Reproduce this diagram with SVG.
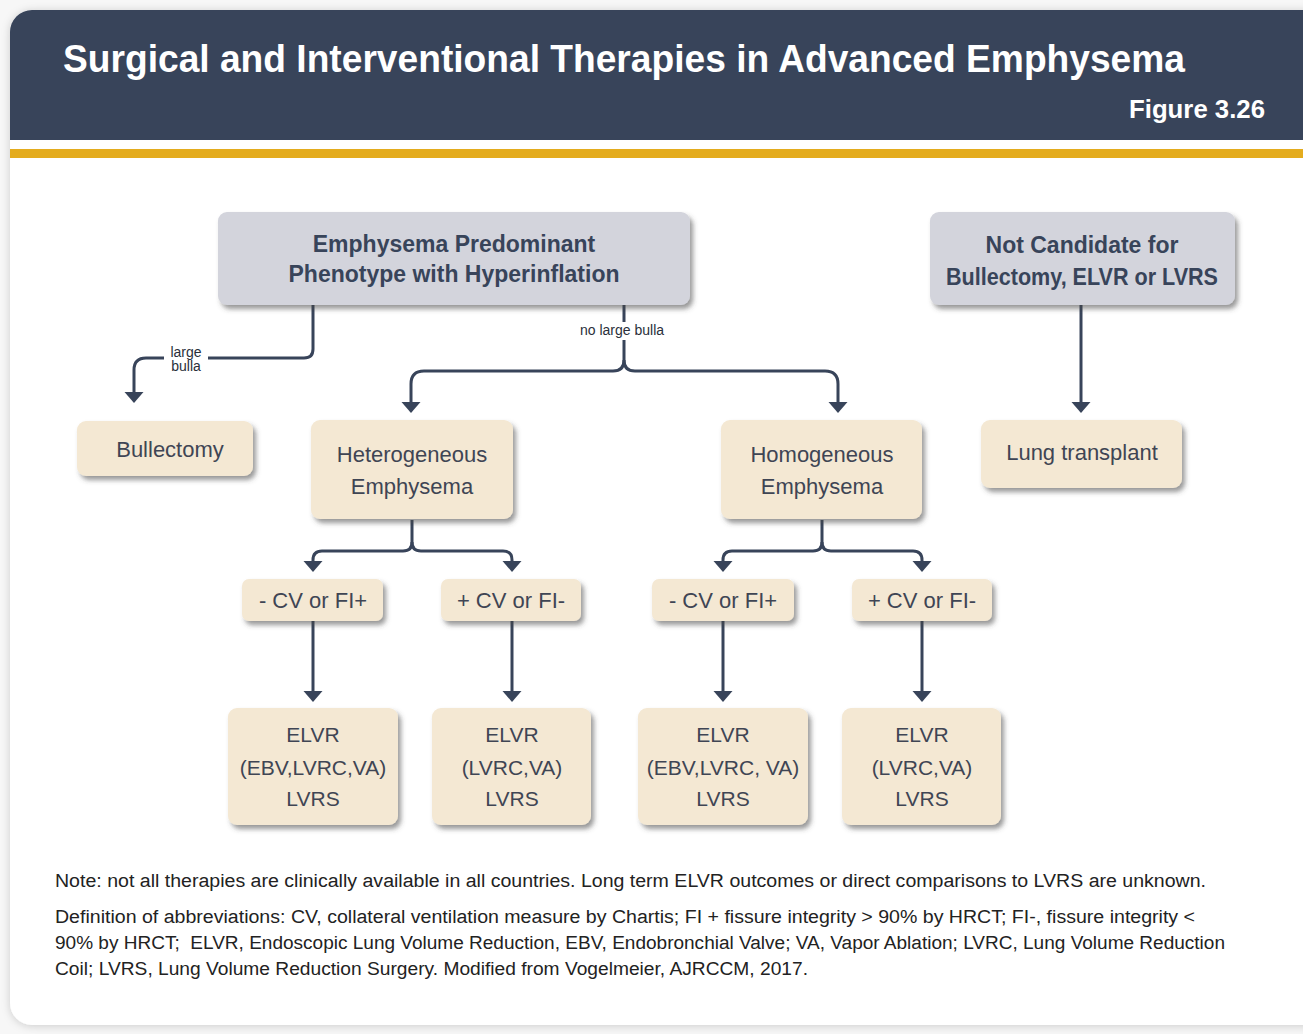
<svg xmlns="http://www.w3.org/2000/svg" width="1303" height="1034" viewBox="0 0 1303 1034">
<defs>
<style>
.hdr{font-family:"Liberation Sans",Arial,sans-serif;font-weight:bold;fill:#ffffff}
.conn{fill:none;stroke:#38445a;stroke-width:3;stroke-linejoin:round}
.gbox{fill:#d3d4dc}
.cbox{fill:#f4e8d3}
.gt{font-family:"Liberation Sans",Arial,sans-serif;font-weight:bold;font-size:23px;fill:#38445a;text-anchor:middle}
.ct{font-family:"Liberation Sans",Arial,sans-serif;font-size:22px;fill:#3f4554;text-anchor:middle}
.bt{font-family:"Liberation Sans",Arial,sans-serif;font-size:21px;fill:#3f4554;text-anchor:middle}
.lbl{font-family:"Liberation Sans",Arial,sans-serif;font-size:14px;fill:#2a2f3a;text-anchor:middle}
.note{font-family:"Liberation Sans",Arial,sans-serif;font-size:18px;fill:#222222;white-space:pre}
</style>
<filter id="sh" x="-10%" y="-10%" width="130%" height="140%">
<feDropShadow dx="3" dy="4" stdDeviation="2.5" flood-color="#444444" flood-opacity="0.55"/>
</filter>
<filter id="cardsh" x="-5%" y="-5%" width="110%" height="110%">
<feDropShadow dx="0" dy="1" stdDeviation="4" flood-color="#000000" flood-opacity="0.18"/>
</filter>
<marker id="ah" viewBox="0 -10 12 20" refX="0" refY="0" markerWidth="12" markerHeight="20" markerUnits="userSpaceOnUse" orient="auto">
<path d="M0,-9.5 L11,0 L0,9.5 Z" fill="#38445a"/>
</marker>
</defs>

<rect x="0" y="0" width="1303" height="1034" fill="#f7f7f7"/>
<g id="card">
<rect x="10" y="10" width="1340" height="1015" rx="22" fill="#ffffff" filter="url(#cardsh)"/>
<path d="M10,140 V32 A22,22 0 0 1 32,10 H1320 V140 Z" fill="#38445a"/>
<rect x="10" y="149" width="1310" height="9" fill="#e4ac1e"/>
<text class="hdr" x="63" y="72" font-size="38" textLength="1122" lengthAdjust="spacingAndGlyphs">Surgical and Interventional Therapies in Advanced Emphysema</text>
<text class="hdr" x="1265" y="118" font-size="25" text-anchor="end" textLength="136" lengthAdjust="spacingAndGlyphs">Figure  3.26</text>
</g>

<g id="connectors">
<path class="conn" d="M313,305 V349 Q313,358 304,358 H146 Q134,358 134,370 V392" marker-end="url(#ah)"/>
<path class="conn" d="M624,305 V360 Q624,371 613,371 H424 Q411,371 411,384 V402" marker-end="url(#ah)"/>
<path class="conn" d="M624,360 Q624,371 635,371 H825 Q838,371 838,384 V402" marker-end="url(#ah)"/>
<path class="conn" d="M1081,305 V402" marker-end="url(#ah)"/>
<path class="conn" d="M412,520 V542 Q412,551 403,551 H322 Q313,551 313,560 V561" marker-end="url(#ah)"/>
<path class="conn" d="M412,542 Q412,551 421,551 H503 Q512,551 512,560 V561" marker-end="url(#ah)"/>
<path class="conn" d="M822,520 V542 Q822,551 813,551 H732 Q723,551 723,560 V561" marker-end="url(#ah)"/>
<path class="conn" d="M822,542 Q822,551 831,551 H913 Q922,551 922,560 V561" marker-end="url(#ah)"/>
<path class="conn" d="M313,621 V691" marker-end="url(#ah)"/>
<path class="conn" d="M512,621 V691" marker-end="url(#ah)"/>
<path class="conn" d="M723,621 V691" marker-end="url(#ah)"/>
<path class="conn" d="M922,621 V691" marker-end="url(#ah)"/>
<rect x="164" y="344" width="44" height="30" fill="#ffffff"/>
<text class="lbl" x="186" y="357">large</text>
<text class="lbl" x="186" y="371">bulla</text>
<rect x="573" y="322" width="100" height="18" fill="#ffffff"/>
<text class="lbl" x="622" y="335">no large bulla</text>
</g>

<g id="node-phenotype">
<rect class="gbox" x="218" y="212" width="472" height="93" rx="9" filter="url(#sh)"/>
<text class="gt" x="454" y="252">Emphysema Predominant</text>
<text class="gt" x="454" y="282">Phenotype with Hyperinflation</text>
</g>
<g id="node-notcandidate">
<rect class="gbox" x="930" y="212" width="305" height="93" rx="9" filter="url(#sh)"/>
<text class="gt" x="1082" y="253">Not Candidate for</text>
<text class="gt" x="1082" y="285" textLength="272" lengthAdjust="spacingAndGlyphs">Bullectomy, ELVR or LVRS</text>
</g>
<g id="node-bullectomy">
<rect class="cbox" x="77" y="421" width="176" height="55" rx="9" filter="url(#sh)"/>
<text class="ct" x="170" y="457">Bullectomy</text>
</g>
<g id="node-hetero">
<rect class="cbox" x="311" y="420" width="202" height="99" rx="9" filter="url(#sh)"/>
<text class="ct" x="412" y="462">Heterogeneous</text>
<text class="ct" x="412" y="494">Emphysema</text>
</g>
<g id="node-homo">
<rect class="cbox" x="721" y="420" width="201" height="99" rx="9" filter="url(#sh)"/>
<text class="ct" x="822" y="462">Homogeneous</text>
<text class="ct" x="822" y="494">Emphysema</text>
</g>
<g id="node-lung">
<rect class="cbox" x="981" y="420" width="201" height="68" rx="9" filter="url(#sh)"/>
<text class="ct" x="1082" y="460">Lung transplant</text>
</g>
<g id="node-het-neg">
<rect class="cbox" x="242" y="579" width="141" height="42" rx="7" filter="url(#sh)"/>
<text class="ct" x="313" y="608">- CV or FI+</text>
</g>
<g id="node-het-pos">
<rect class="cbox" x="441" y="579" width="140" height="42" rx="7" filter="url(#sh)"/>
<text class="ct" x="511" y="608">+ CV or FI-</text>
</g>
<g id="node-hom-neg">
<rect class="cbox" x="652" y="579" width="142" height="42" rx="7" filter="url(#sh)"/>
<text class="ct" x="723" y="608">- CV or FI+</text>
</g>
<g id="node-hom-pos">
<rect class="cbox" x="852" y="579" width="140" height="42" rx="7" filter="url(#sh)"/>
<text class="ct" x="922" y="608">+ CV or FI-</text>
</g>
<g id="node-res1">
<rect class="cbox" x="228" y="708" width="170" height="117" rx="9" filter="url(#sh)"/>
<text class="bt" x="313" y="742">ELVR</text>
<text class="bt" x="313" y="775">(EBV,LVRC,VA)</text>
<text class="bt" x="313" y="806">LVRS</text>
</g>
<g id="node-res2">
<rect class="cbox" x="432" y="708" width="159" height="117" rx="9" filter="url(#sh)"/>
<text class="bt" x="512" y="742">ELVR</text>
<text class="bt" x="512" y="775">(LVRC,VA)</text>
<text class="bt" x="512" y="806">LVRS</text>
</g>
<g id="node-res3">
<rect class="cbox" x="638" y="708" width="170" height="117" rx="9" filter="url(#sh)"/>
<text class="bt" x="723" y="742">ELVR</text>
<text class="bt" x="723" y="775">(EBV,LVRC, VA)</text>
<text class="bt" x="723" y="806">LVRS</text>
</g>
<g id="node-res4">
<rect class="cbox" x="842" y="708" width="159" height="117" rx="9" filter="url(#sh)"/>
<text class="bt" x="922" y="742">ELVR</text>
<text class="bt" x="922" y="775">(LVRC,VA)</text>
<text class="bt" x="922" y="806">LVRS</text>
</g>

<g id="notes">
<text class="note" x="55" y="887" textLength="1151" lengthAdjust="spacingAndGlyphs">Note: not all therapies are clinically available in all countries. Long term ELVR outcomes or direct comparisons to LVRS are unknown.</text>
<text class="note" x="55" y="923" textLength="1140" lengthAdjust="spacingAndGlyphs">Definition of abbreviations: CV, collateral ventilation measure by Chartis; FI + fissure integrity &gt; 90% by HRCT; FI-, fissure integrity &lt;</text>
<text class="note" x="55" y="949" textLength="1170" lengthAdjust="spacingAndGlyphs">90% by HRCT;  ELVR, Endoscopic Lung Volume Reduction, EBV, Endobronchial Valve; VA, Vapor Ablation; LVRC, Lung Volume Reduction</text>
<text class="note" x="55" y="975" textLength="753" lengthAdjust="spacingAndGlyphs">Coil; LVRS, Lung Volume Reduction Surgery. Modified from Vogelmeier, AJRCCM, 2017.</text>
</g>
</svg>
